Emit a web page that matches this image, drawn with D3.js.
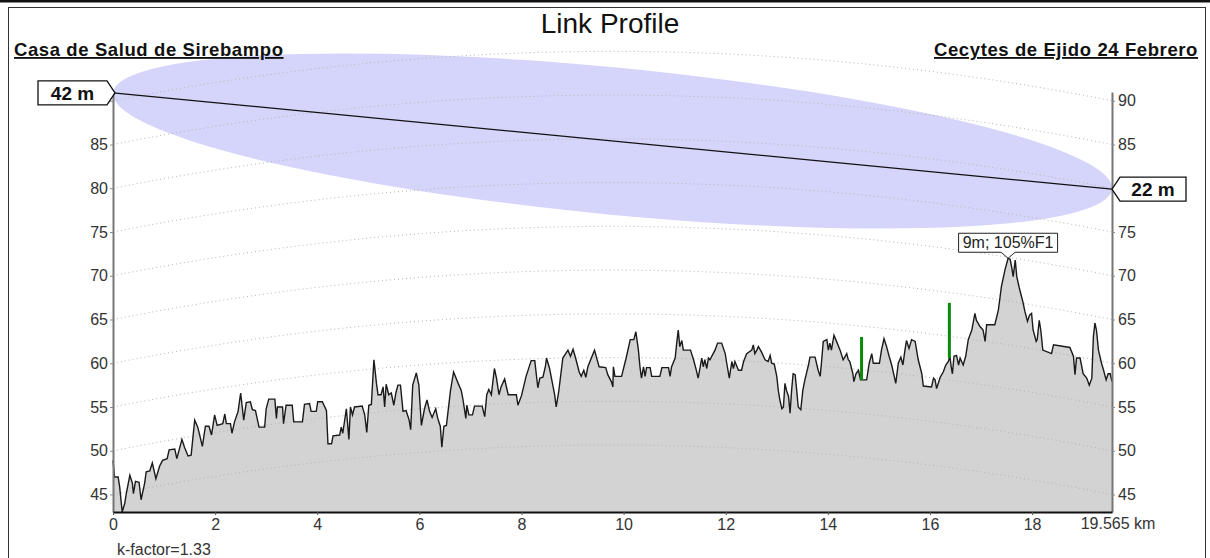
<!DOCTYPE html>
<html>
<head>
<meta charset="utf-8">
<script src="https://cdn.jsdelivr.net/npm/d3@7"></script>
<style>
  body { margin: 0; background: #fff; font-family: Arial, "Liberation Sans", sans-serif; }
</style>
</head>
<body>
<div id="chart"></div>
<script>
// profile distance (km) and displayed terrain height (m, incl. earth bulge)
var distKm = [0.00,0.03,0.10,0.13,0.18,0.23,0.26,0.33,0.38,0.40,0.44,0.51,0.55,0.62,0.65,0.72,0.77,0.84,0.91,0.97,
  1.06,1.10,1.21,1.25,1.35,1.40,1.47,1.53,1.60,1.66,1.75,1.81,1.88,1.93,1.99,2.04,2.15,2.19,2.22,2.30,
  2.33,2.38,2.45,2.50,2.56,2.61,2.69,2.73,2.79,2.86,2.97,3.00,3.05,3.17,3.20,3.22,3.32,3.34,3.39,3.51,
  3.54,3.71,3.75,3.85,3.88,3.98,4.01,4.10,4.18,4.21,4.28,4.31,4.44,4.47,4.50,4.57,4.62,4.65,4.69,4.73,
  4.88,4.93,4.97,5.01,5.06,5.11,5.16,5.19,5.25,5.29,5.32,5.35,5.40,5.45,5.50,5.54,5.58,5.63,5.68,5.74,
  5.80,5.83,5.87,5.94,5.99,6.04,6.10,6.15,6.20,6.25,6.32,6.36,6.41,6.44,6.48,6.53,6.61,6.67,6.76,6.82,
  6.85,6.89,6.91,6.93,6.97,7.04,7.08,7.23,7.28,7.32,7.36,7.41,7.47,7.51,7.56,7.60,7.67,7.74,7.90,7.93,
  8.00,8.09,8.19,8.26,8.32,8.36,8.42,8.47,8.49,8.55,8.60,8.65,8.68,8.73,8.81,8.91,8.96,9.01,9.06,9.13,
  9.17,9.22,9.26,9.30,9.43,9.52,9.65,9.69,9.76,9.79,9.80,9.83,9.96,10.05,10.13,10.20,10.24,10.29,10.32,10.35,
  10.39,10.42,10.45,10.52,10.55,10.71,10.75,10.88,10.91,10.94,11.01,11.04,11.07,11.10,11.14,11.17,11.31,11.37,11.42,11.46,
  11.50,11.53,11.56,11.59,11.63,11.66,11.69,11.79,11.84,11.92,11.99,12.02,12.07,12.12,12.15,12.18,12.25,12.31,12.35,12.41,
  12.51,12.54,12.57,12.61,12.64,12.70,12.77,12.83,12.87,12.90,12.95,13.00,13.03,13.06,13.10,13.13,13.16,13.19,13.23,13.26,
  13.29,13.32,13.36,13.39,13.42,13.47,13.51,13.55,13.62,13.65,13.75,13.81,13.85,13.88,13.91,13.98,14.01,14.04,14.07,14.12,
  14.17,14.24,14.30,14.37,14.40,14.43,14.49,14.51,14.55,14.60,14.64,14.76,14.81,14.86,14.89,15.01,15.05,15.10,15.15,15.20,
  15.25,15.30,15.33,15.38,15.43,15.47,15.51,15.54,15.59,15.64,15.71,15.77,15.84,15.87,16.03,16.07,16.10,16.13,16.20,16.26,
  16.31,16.36,16.39,16.42,16.44,16.47,16.52,16.56,16.59,16.65,16.70,16.75,16.82,16.88,16.91,16.98,17.04,17.08,17.11,17.27,
  17.34,17.40,17.47,17.53,17.57,17.60,17.63,17.67,17.70,17.75,17.82,17.86,17.91,17.95,17.99,18.02,18.08,18.10,18.14,18.17,
  18.21,18.38,18.42,18.74,18.81,18.84,18.87,18.94,19.00,19.07,19.12,19.17,19.20,19.23,19.26,19.30,19.36,19.40,19.45,19.49,
  19.53,19.565];
var heightM = [48.9,47.0,47.0,45.9,43.0,44.0,45.1,47.2,46.3,45.1,46.5,46.4,44.4,46.3,47.6,47.7,48.6,46.8,48.2,48.9,
  49.1,50.1,50.2,49.1,51.3,50.4,49.4,49.5,53.5,52.7,50.5,52.8,52.8,51.8,54.1,52.9,53.1,54.2,53.1,53.1,
  52.0,53.3,54.5,56.6,53.5,55.5,55.6,54.7,54.6,52.7,52.7,54.8,55.9,55.9,53.7,55.0,55.0,53.1,55.2,55.2,
  53.3,53.3,55.3,55.4,54.5,54.5,55.6,55.6,54.6,50.8,50.8,51.7,51.8,52.7,52.0,54.8,51.3,55.0,54.1,55.0,
  55.1,54.1,52.1,55.2,55.3,60.4,57.7,56.4,56.4,57.3,55.0,57.6,56.4,56.6,55.2,56.6,57.5,57.5,54.5,54.6,
  53.5,52.4,57.5,58.9,57.5,52.9,54.8,55.8,54.5,53.8,54.8,53.7,52.8,50.4,52.8,52.9,56.9,59.0,57.7,56.9,
  56.0,54.5,53.7,55.2,54.1,54.1,55.1,55.1,53.9,56.4,57.0,56.4,59.4,58.3,56.4,57.3,58.2,56.4,56.4,55.2,
  56.3,58.5,60.3,60.3,57.2,58.3,58.4,59.7,60.6,59.4,57.9,56.4,55.0,56.8,60.6,61.5,60.8,61.6,60.6,59.0,
  58.5,59.2,58.4,59.6,61.5,59.6,59.5,58.7,57.9,57.3,59.6,58.5,58.5,60.6,62.7,62.7,63.6,61.5,59.6,58.3,
  59.6,58.5,59.5,59.5,58.5,58.5,59.5,59.5,58.5,59.6,60.6,62.3,63.8,61.9,62.6,61.5,61.5,60.4,59.3,58.3,
  59.6,60.6,59.6,60.4,59.4,60.6,60.4,61.5,62.3,62.3,61.1,60.0,58.3,60.2,59.4,60.2,59.2,59.2,60.2,61.1,
  61.5,62.1,61.1,61.5,61.9,61.3,60.4,60.2,60.9,60.0,59.9,58.5,56.9,55.8,54.8,55.0,57.7,56.9,56.2,54.3,
  56.9,58.8,58.7,56.9,55.0,54.7,56.9,58.1,59.8,60.7,60.7,59.2,58.5,60.4,62.5,62.7,61.5,62.3,61.5,63.2,
  62.5,61.5,60.4,61.1,60.4,60.2,58.8,57.9,58.8,59.2,58.1,58.1,60.0,61.1,60.0,60.0,61.5,62.8,61.9,60.8,
  59.8,58.5,57.7,60.0,60.7,59.8,61.5,62.6,61.7,62.7,62.5,60.4,58.8,57.4,57.3,58.3,58.1,57.1,58.4,59.0,
  59.8,60.2,60.8,59.4,58.8,60.8,60.9,59.8,60.6,59.8,60.8,62.7,63.8,65.7,64.9,64.2,63.8,62.5,64.4,64.4,
  66.1,68.8,70.7,72.0,71.9,71.0,69.9,71.8,69.9,68.6,67.0,65.9,64.8,65.5,65.7,63.8,62.5,62.7,64.9,63.8,
  61.5,61.1,62.1,61.8,60.8,58.7,60.6,60.6,58.8,58.3,57.5,58.3,63.0,64.6,63.8,61.5,60.0,59.2,58.1,58.8,
  58.8,57.9];

// clutter (green) obstacles
var clutterKm = [14.66, 16.38];
var clutterBase = [58.1, 60.6];
var clutterTop = [63.0, 66.9];

var yTicks = [45, 50, 55, 60, 65, 70, 75, 80, 85, 90];
var xTicks = [0, 2, 4, 6, 8, 10, 12, 14, 16, 18];
var totalKm = 19.565;
var kFactor = 1.33;
var antennaLeft = 42, antennaRight = 22;
var fresnelMid = 8.4;  // m, half-width of drawn zone at mid path
var siteLeft = "Casa de Salud de Sirebampo";
var siteRight = "Cecytes de Ejido 24 Febrero";
var worstKm = 17.53, worstH = 72.0, worstText = "9m; 105%F1";

var W = 1210, H = 558;
var svg = d3.select("#chart").append("svg").attr("width", W).attr("height", H);

// frame
svg.append("rect").attr("x", 0).attr("y", 0).attr("width", W).attr("height", 2.5).attr("fill", "#111");
svg.append("rect").attr("x", 8.5).attr("y", 7.5).attr("width", 1197).attr("height", 560)
  .attr("fill", "none").attr("stroke", "#333").attr("stroke-width", 1);

var x = d3.scaleLinear().domain([0, totalKm]).range([113, 1112]);
var y = d3.scaleLinear().domain([43, 91]).range([512, 92]);

var R = 6371;
function bulge(d) { return d * (totalKm - d) / (2 * kFactor * R) * 1000; }

var losL = heightM[0] + antennaLeft;
var losR = heightM[heightM.length - 1] + antennaRight;

// fresnel zone ellipse
var p0 = [x(0), y(losL)], p1 = [x(totalKm), y(losR)];
var cx = (p0[0] + p1[0]) / 2, cy = (p0[1] + p1[1]) / 2;
var semiA = Math.hypot(p1[0] - p0[0], p1[1] - p0[1]) / 2;
var semiB = y(43) - y(43 + fresnelMid);
var ang = Math.atan2(p1[1] - p0[1], p1[0] - p0[0]) * 180 / Math.PI;
svg.append("ellipse")
  .attr("cx", cx).attr("cy", cy).attr("rx", semiA).attr("ry", semiB)
  .attr("transform", "rotate(" + ang + "," + cx + "," + cy + ")")
  .attr("fill", "#d5d5fb");

// terrain
var prof = distKm.map(function(d, i) { return {d: d, h: heightM[i]}; });
svg.append("path").datum(prof)
  .attr("fill", "#d3d3d3")
  .attr("d", d3.area().x(function(p) { return x(p.d); }).y0(y(43)).y1(function(p) { return y(p.h); }));

// curved grid lines
var steps = d3.range(0, 101).map(function(i) { return totalKm * i / 100; });
var gridLine = d3.line().x(function(p) { return x(p[0]); }).y(function(p) { return y(p[1]); });
yTicks.forEach(function(v) {
  svg.append("path")
    .datum(steps.map(function(d) { return [d, v + bulge(d)]; }))
    .attr("fill", "none").attr("stroke", "#b4b4b4").attr("stroke-width", 1)
    .attr("stroke-dasharray", "1,3")
    .attr("d", gridLine);
});

svg.append("path").datum(prof)
  .attr("fill", "none").attr("stroke", "#1a1a1a").attr("stroke-width", 1.4)
  .attr("d", d3.line().x(function(p) { return x(p.d); }).y(function(p) { return y(p.h); }));

// clutter
clutterKm.forEach(function(d, i) {
  svg.append("line")
    .attr("x1", x(d)).attr("x2", x(d))
    .attr("y1", y(clutterBase[i])).attr("y2", y(clutterTop[i]))
    .attr("stroke", "#0a8a0a").attr("stroke-width", 3);
});

// line of sight
svg.append("line")
  .attr("x1", p0[0]).attr("y1", p0[1]).attr("x2", p1[0]).attr("y2", p1[1])
  .attr("stroke", "#111").attr("stroke-width", 1.2);

// axes (labels hidden under the antenna tags are left out)
var axL = svg.append("g").attr("transform", "translate(113,0)")
  .call(d3.axisLeft(y).tickValues(yTicks).tickSize(3).tickSizeOuter(0).tickPadding(2)
    .tickFormat(function(v) { return Math.abs(y(v) - y(losL)) < 14 ? "" : v; }));
var axR = svg.append("g").attr("transform", "translate(1112,0)")
  .call(d3.axisRight(y).tickValues(yTicks).tickSize(3).tickSizeOuter(0).tickPadding(3)
    .tickFormat(function(v) { return Math.abs(y(v) - y(losR)) < 14 ? "" : v; }));
var axB = svg.append("g").attr("transform", "translate(0,512)")
  .call(d3.axisBottom(x).tickValues(xTicks).tickSize(3).tickSizeOuter(0).tickPadding(4));

[axL, axR].forEach(function(g) {
  g.select(".domain").attr("stroke", "#777").attr("stroke-width", 2);
  g.selectAll(".tick line").attr("stroke", "#888");
});
axB.select(".domain").attr("stroke", "#111").attr("stroke-width", 2);
axB.selectAll(".tick line").attr("stroke", "#555");
svg.selectAll(".tick text")
  .attr("fill", "#333").style("font-size", "16px")
  .style("font-family", "Arial, 'Liberation Sans', sans-serif");

svg.append("text").attr("x", x(totalKm) + 6).attr("y", 529)
  .attr("text-anchor", "middle").attr("fill", "#333").style("font-size", "16px")
  .text(totalKm + " km");

svg.append("text").attr("x", 117).attr("y", 555)
  .attr("fill", "#333").style("font-size", "16px")
  .text("k-factor=" + kFactor);

// titles
svg.append("text").attr("x", 610).attr("y", 33)
  .attr("text-anchor", "middle").attr("fill", "#111").style("font-size", "28px")
  .text("Link Profile");
svg.append("text").attr("x", 14).attr("y", 56)
  .attr("fill", "#111").style("font-size", "18.5px").style("font-weight", "bold")
  .style("letter-spacing", "0.6px").style("text-decoration", "underline")
  .text(siteLeft);
svg.append("text").attr("x", 1198).attr("y", 56).attr("text-anchor", "end")
  .attr("fill", "#111").style("font-size", "18.5px").style("font-weight", "bold")
  .style("letter-spacing", "0.6px").style("text-decoration", "underline")
  .text(siteRight);

// antenna height tags
function tag(tipX, tipY, dir, label, bw) {
  var bh = 24, gap = 8;
  var near = tipX - dir * gap, far = tipX - dir * (gap + bw);
  var pts = [[tipX, tipY], [near, tipY - bh / 2], [far, tipY - bh / 2], [far, tipY + bh / 2], [near, tipY + bh / 2]];
  svg.append("path").attr("d", "M" + pts.join("L") + "Z")
    .attr("fill", "#fff").attr("stroke", "#111").attr("stroke-width", 1.3);
  svg.append("text").attr("x", (near + far) / 2).attr("y", tipY + 7)
    .attr("text-anchor", "middle").attr("fill", "#111")
    .style("font-size", "19px").style("font-weight", "bold").text(label);
}
tag(p0[0] + 2, p0[1], 1, antennaLeft + " m", 69);
tag(p1[0], p1[1], -1, antennaRight + " m", 66);

// worst clearance label
var wx = x(worstKm), wy = y(worstH);
var lw = 99, lh = 19;
svg.append("path")
  .attr("d", "M" + (wx - lw / 2) + "," + (wy - 6 - lh) + "H" + (wx + lw / 2) + "V" + (wy - 6)
    + "H" + (wx + 7) + "L" + wx + "," + wy + "L" + (wx - 7) + "," + (wy - 6) + "H" + (wx - lw / 2) + "Z")
  .attr("fill", "#fff").attr("stroke", "#222").attr("stroke-width", 1);
svg.append("text").attr("x", wx).attr("y", wy - 10)
  .attr("text-anchor", "middle").attr("fill", "#222").style("font-size", "16px")
  .text(worstText);
</script>
</body>
</html>
